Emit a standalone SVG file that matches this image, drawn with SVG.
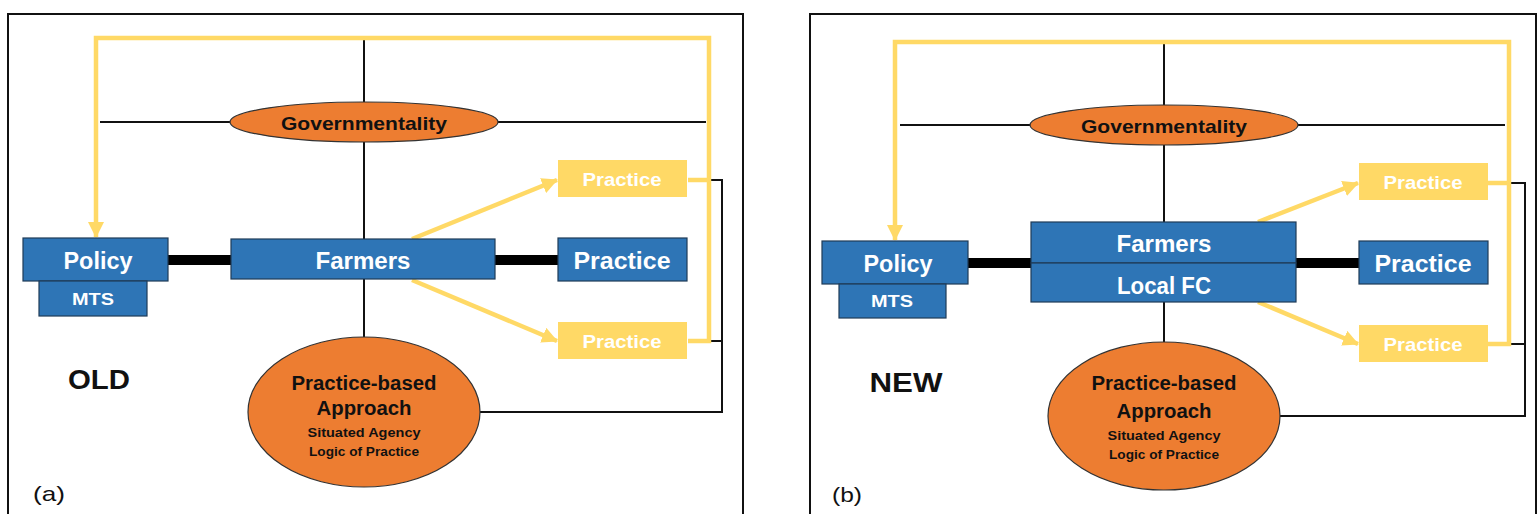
<svg xmlns="http://www.w3.org/2000/svg" width="1539" height="514" viewBox="0 0 1539 514">
<defs>
<marker id="ya" markerUnits="userSpaceOnUse" markerWidth="16" markerHeight="16" refX="15" refY="8" orient="auto">
<path d="M0,0 L16,8 L0,16 z" fill="#FFD966"/>
</marker>
<style>
.frame{fill:none;stroke:#111;stroke-width:2}
.yl{fill:none;stroke:#FFD966;stroke-width:4.5}
.bl{fill:none;stroke:#111;stroke-width:2}
.thick{fill:none;stroke:#000;stroke-width:10}
.blue{fill:#2E75B6;stroke:#1F3B57;stroke-width:1.2}
.yel{fill:#FFD966}
.orange{fill:#ED7D31;stroke:#333;stroke-width:1.2}
text{font-family:"Liberation Sans",Arial,sans-serif;font-weight:bold;text-anchor:middle;dominant-baseline:central}
.w{fill:#fff}
.k{fill:#111}
.lbl{font-weight:normal}
</style>
</defs>
<rect x="8" y="14" width="735" height="520" class="frame"/>
<rect x="810" y="14" width="726" height="520" class="frame"/>

<g id="connectors">
<!-- panel a -->
<path d="M364,38 V104 M364,142 V239 M364,279 V338" class="bl"/>
<path d="M100,122 H232 M496,122 H706" class="bl"/>
<path d="M709,180 H722 V412 H480 M709,341 H722" class="bl"/>
<path d="M168,260 H232 M495,260 H559" class="thick"/>
<path d="M688,341 H709 V38 H96 V237" class="yl" marker-end="url(#ya)"/>
<path d="M688,180 H709" class="yl"/>
<path d="M412,239 L557,180" class="yl" marker-end="url(#ya)"/>
<path d="M412,280 L557,341" class="yl" marker-end="url(#ya)"/>
<!-- panel b -->
<path d="M1164,42 V106 M1164,144 V223 M1164,302 V342" class="bl"/>
<path d="M900,125 H1032 M1296,125 H1505" class="bl"/>
<path d="M1509,183 H1525 V416 H1280 M1509,344 H1525" class="bl"/>
<path d="M968,263 H1032 M1296,263 H1360" class="thick"/>
<path d="M1488,344 H1509 V42 H895 V240" class="yl" marker-end="url(#ya)"/>
<path d="M1488,183 H1509" class="yl"/>
<path d="M1258,222 L1358,183" class="yl" marker-end="url(#ya)"/>
<path d="M1258,302 L1358,344" class="yl" marker-end="url(#ya)"/>
</g>

<g id="gov-a"><ellipse cx="364" cy="122" rx="134" ry="20" class="orange"/><text x="364" y="123" class="k" font-size="19" textLength="166" lengthAdjust="spacingAndGlyphs">Governmentality</text></g>
<g id="policy-a"><rect x="23" y="238" width="145" height="43" class="blue"/><text x="98" y="260" class="w" font-size="24" textLength="69" lengthAdjust="spacingAndGlyphs">Policy</text></g>
<g id="mts-a"><rect x="39" y="281" width="108" height="35" class="blue"/><text x="93" y="299" class="w" font-size="16" textLength="42" lengthAdjust="spacingAndGlyphs">MTS</text></g>
<g id="farmers-a"><rect x="231" y="239" width="264" height="40" class="blue"/><text x="363" y="260" class="w" font-size="24" textLength="95" lengthAdjust="spacingAndGlyphs">Farmers</text></g>
<g id="practice-a"><rect x="558" y="238" width="129" height="43" class="blue"/><text x="622" y="260" class="w" font-size="24" textLength="97" lengthAdjust="spacingAndGlyphs">Practice</text></g>
<g id="practice-a-top"><rect x="558" y="160" width="129" height="37" class="yel"/><text x="622" y="179" class="w" font-size="19" textLength="79" lengthAdjust="spacingAndGlyphs">Practice</text></g>
<g id="practice-a-bot"><rect x="558" y="322" width="129" height="37" class="yel"/><text x="622" y="341" class="w" font-size="19" textLength="79" lengthAdjust="spacingAndGlyphs">Practice</text></g>
<g id="pba-a"><ellipse cx="364" cy="412" rx="116" ry="75" class="orange"/>
<text x="364" y="383" class="k" font-size="20" textLength="145" lengthAdjust="spacingAndGlyphs">Practice-based</text>
<text x="364" y="408" class="k" font-size="20" textLength="95" lengthAdjust="spacingAndGlyphs">Approach</text>
<text x="364" y="432" class="k" font-size="13" textLength="113" lengthAdjust="spacingAndGlyphs">Situated Agency</text>
<text x="364" y="451" class="k" font-size="13" textLength="110" lengthAdjust="spacingAndGlyphs">Logic of Practice</text></g>
<g id="old"><text x="99" y="380" class="k" font-size="27" textLength="62" lengthAdjust="spacingAndGlyphs">OLD</text></g>
<g id="label-a"><text x="49" y="493" class="k lbl" font-size="21" textLength="32" lengthAdjust="spacingAndGlyphs">(a)</text></g>

<g id="gov-b"><ellipse cx="1164" cy="125" rx="134" ry="20" class="orange"/><text x="1164" y="126" class="k" font-size="19" textLength="166" lengthAdjust="spacingAndGlyphs">Governmentality</text></g>
<g id="policy-b"><rect x="822" y="241" width="146" height="43" class="blue"/><text x="898" y="263" class="w" font-size="24" textLength="69" lengthAdjust="spacingAndGlyphs">Policy</text></g>
<g id="mts-b"><rect x="839" y="284" width="107" height="34" class="blue"/><text x="892" y="301" class="w" font-size="16" textLength="42" lengthAdjust="spacingAndGlyphs">MTS</text></g>
<g id="farmers-b"><rect x="1031" y="222" width="265" height="41" class="blue"/><text x="1164" y="243" class="w" font-size="24" textLength="95" lengthAdjust="spacingAndGlyphs">Farmers</text></g>
<g id="localfc-b"><rect x="1031" y="263" width="265" height="39" class="blue"/><text x="1164" y="285" class="w" font-size="24" textLength="94" lengthAdjust="spacingAndGlyphs">Local FC</text></g>
<g id="practice-b"><rect x="1359" y="241" width="129" height="43" class="blue"/><text x="1423" y="263" class="w" font-size="24" textLength="97" lengthAdjust="spacingAndGlyphs">Practice</text></g>
<g id="practice-b-top"><rect x="1359" y="163" width="129" height="37" class="yel"/><text x="1423" y="182" class="w" font-size="19" textLength="79" lengthAdjust="spacingAndGlyphs">Practice</text></g>
<g id="practice-b-bot"><rect x="1359" y="325" width="129" height="37" class="yel"/><text x="1423" y="344" class="w" font-size="19" textLength="79" lengthAdjust="spacingAndGlyphs">Practice</text></g>
<g id="pba-b"><ellipse cx="1164" cy="416" rx="116" ry="74" class="orange"/>
<text x="1164" y="383" class="k" font-size="20" textLength="145" lengthAdjust="spacingAndGlyphs">Practice-based</text>
<text x="1164" y="411" class="k" font-size="20" textLength="95" lengthAdjust="spacingAndGlyphs">Approach</text>
<text x="1164" y="435" class="k" font-size="13" textLength="113" lengthAdjust="spacingAndGlyphs">Situated Agency</text>
<text x="1164" y="454" class="k" font-size="13" textLength="110" lengthAdjust="spacingAndGlyphs">Logic of Practice</text></g>
<g id="new"><text x="906" y="383" class="k" font-size="27" textLength="73" lengthAdjust="spacingAndGlyphs">NEW</text></g>
<g id="label-b"><text x="847" y="494" class="k lbl" font-size="21" textLength="30" lengthAdjust="spacingAndGlyphs">(b)</text></g>
</svg>
